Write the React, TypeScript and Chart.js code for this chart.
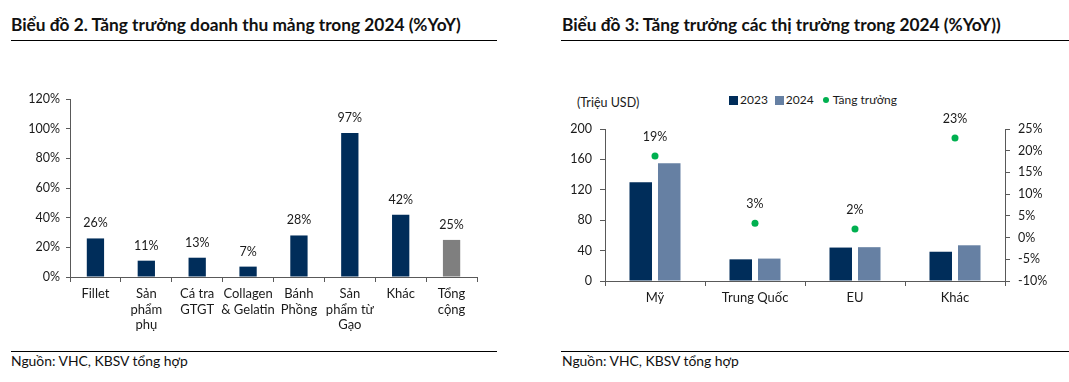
import React, { useEffect, useRef } from "react";
import { Chart, registerables } from "chart.js";

Chart.register(...registerables);

const FONT = "Lato, 'Noto Sans', sans-serif";
const NAVY = "#002d5a";
const LIGHT = "#6680a3";
const GREY = "#7f7f7f";
const GREEN = "#00b050";
const AXIS = "#595959";
const TEXT = "#1a1a1a";

// Chart 2 data
const segmentLabels: string[][] = [
  ["Fillet"],
  ["Sản", "phẩm", "phụ"],
  ["Cá tra", "GTGT"],
  ["Collagen", "& Gelatin"],
  ["Bánh", "Phồng"],
  ["Sản", "phẩm từ", "Gạo"],
  ["Khác"],
  ["Tổng", "cộng"],
];
const segmentGrowth = [26, 11, 13, 7, 28, 97, 42, 25];
const segmentIsTotal = [false, false, false, false, false, false, false, true];
const segmentAxisMax = 120;
const segmentAxisStep = 20;

// Chart 3 data
const marketLabels = ["Mỹ", "Trung Quốc", "EU", "Khác"];
const revenue2023 = [130, 28.5, 44, 38.5];
const revenue2024 = [155, 29.5, 44.5, 47];
const marketGrowth = [18.8, 3.3, 2.0, 22.9];
const revenueAxis = { min: 0, max: 200, step: 40 };
const growthAxis = { min: -10, max: 25, step: 5 };

const valueLabels = {
  id: "valueLabels",
  afterDatasetsDraw(chart: any, _args: any, opts: any) {
    const { ctx } = chart;
    const idx: number = opts.datasetIndex;
    const meta = chart.getDatasetMeta(idx);
    const ds = chart.data.datasets[idx];
    ctx.save();
    ctx.font = `${opts.size}px ${FONT}`;
    ctx.fillStyle = TEXT;
    ctx.textAlign = "center";
    ctx.textBaseline = "middle";
    meta.data.forEach((el: any, i: number) => {
      const v = ds.data[i] as number;
      ctx.fillText(`${Math.round(v)}%`, el.x, el.y - opts.offset);
    });
    ctx.restore();
  },
};

function SegmentChart() {
  const ref = useRef<HTMLCanvasElement>(null);
  useEffect(() => {
    const chart = new Chart(ref.current!, {
      type: "bar",
      data: {
        labels: segmentLabels,
        datasets: [
          {
            data: segmentGrowth,
            backgroundColor: segmentIsTotal.map((t) => (t ? GREY : NAVY)),
            categoryPercentage: 1,
            barPercentage: 0.34,
          },
        ],
      },
      options: {
        responsive: false,
        animation: false,
        layout: { padding: { top: 19, right: 23, left: 0, bottom: 0 } },
        plugins: {
          legend: { display: false },
          tooltip: { enabled: false },
          valueLabels: { datasetIndex: 0, offset: 15, size: 12.5 },
        } as any,
        scales: {
          x: {
            grid: { display: true, drawOnChartArea: false, tickLength: 5, color: AXIS },
            border: { color: AXIS, width: 1 },
            ticks: {
              font: { family: FONT, size: 13 },
              color: TEXT,
              padding: 4,
              maxRotation: 0,
              autoSkip: false,
            },
            afterFit: (s: any) => {
              s.height = 63;
            },
          },
          y: {
            min: 0,
            max: segmentAxisMax,
            ticks: {
              stepSize: segmentAxisStep,
              callback: (v: any) => `${v}%`,
              font: { family: FONT, size: 12.5 },
              color: TEXT,
              padding: 6,
            },
            grid: { drawOnChartArea: false, tickLength: 4, color: AXIS },
            border: { color: AXIS, width: 1 },
            afterFit: (s: any) => {
              s.width = 70;
            },
          },
        },
      },
      plugins: [valueLabels],
    });
    return () => chart.destroy();
  }, []);
  return (
    <canvas
      ref={ref}
      width={500}
      height={260}
      style={{ position: "absolute", left: 0, top: 80, width: 500, height: 260 }}
    />
  );
}

function MarketChart() {
  const ref = useRef<HTMLCanvasElement>(null);
  useEffect(() => {
    const chart = new Chart(ref.current!, {
      type: "bar",
      data: {
        labels: marketLabels,
        datasets: [
          {
            type: "line" as any,
            label: "Tăng trưởng",
            data: marketGrowth,
            yAxisID: "y1",
            showLine: false,
            pointRadius: 3.5,
            pointBackgroundColor: GREEN,
            pointBorderWidth: 0,
            borderColor: GREEN,
            backgroundColor: GREEN,
          },
          {
            label: "2023",
            data: revenue2023,
            backgroundColor: NAVY,
            yAxisID: "y",
            categoryPercentage: 0.57,
            barPercentage: 0.79,
          },
          {
            label: "2024",
            data: revenue2024,
            backgroundColor: LIGHT,
            yAxisID: "y",
            categoryPercentage: 0.57,
            barPercentage: 0.79,
          },
        ],
      },
      options: {
        responsive: false,
        animation: false,
        layout: { padding: { top: 49, right: 0, left: 0, bottom: 0 } },
        plugins: {
          legend: { display: false },
          tooltip: { enabled: false },
          valueLabels: { datasetIndex: 0, offset: 19, size: 12.5 },
        } as any,
        scales: {
          x: {
            grid: { display: true, drawOnChartArea: false, tickLength: 5, color: AXIS, offset: true },
            border: { color: AXIS, width: 1 },
            offset: true,
            ticks: {
              font: { family: FONT, size: 13 },
              color: TEXT,
              padding: 4,
              maxRotation: 0,
              autoSkip: false,
            },
            afterFit: (s: any) => {
              s.height = 39;
            },
          },
          y: {
            position: "left",
            min: revenueAxis.min,
            max: revenueAxis.max,
            ticks: {
              stepSize: revenueAxis.step,
              font: { family: FONT, size: 12.5 },
              color: TEXT,
              padding: 8,
            },
            grid: { drawOnChartArea: false, tickLength: 5, color: AXIS },
            border: { color: AXIS, width: 1 },
            afterFit: (s: any) => {
              s.width = 65;
            },
          },
          y1: {
            position: "right",
            min: growthAxis.min,
            max: growthAxis.max,
            ticks: {
              stepSize: growthAxis.step,
              callback: (v: any) => `${v}%`,
              font: { family: FONT, size: 12.5 },
              color: TEXT,
              padding: 8,
            },
            grid: { drawOnChartArea: false, tickLength: 5, color: AXIS },
            border: { color: AXIS, width: 1 },
            afterFit: (s: any) => {
              s.width = 64;
            },
          },
        },
      },
      plugins: [valueLabels],
    });
    return () => chart.destroy();
  }, []);
  return (
    <canvas
      ref={ref}
      width={529}
      height={240}
      style={{ position: "absolute", left: 540, top: 80, width: 529, height: 240 }}
    />
  );
}

const titleStyle: React.CSSProperties = {
  position: "absolute",
  top: 14,
  fontFamily: FONT,
  fontWeight: 700,
  fontSize: 17.3,
  color: "#111",
  whiteSpace: "nowrap",
  lineHeight: "22px",
};
const sourceStyle: React.CSSProperties = {
  position: "absolute",
  top: 352,
  fontFamily: FONT,
  fontSize: 13.9,
  color: "#111",
  whiteSpace: "nowrap",
  lineHeight: "18px",
};
const rule = (left: number, top: number, width: number): React.CSSProperties => ({
  position: "absolute",
  left,
  top,
  width,
  height: 1,
  background: "#000",
});

export default function App() {
  return (
    <div
      style={{
        position: "fixed",
        left: 0,
        top: 0,
        width: 1069,
        height: 382,
        background: "#fff",
        overflow: "hidden",
      }}
    >
      <div style={{ ...titleStyle, left: 11 }}>
        Biểu đồ 2. Tăng trưởng doanh thu mảng trong 2024 (%YoY)
      </div>
      <div style={rule(11, 40, 486)} />
      <SegmentChart />
      <div style={rule(11, 351, 486)} />
      <div style={{ ...sourceStyle, left: 11 }}>Nguồn: VHC, KBSV tổng hợp</div>

      <div style={{ ...titleStyle, left: 562 }}>
        Biểu đồ 3: Tăng trưởng các thị trường trong 2024 (%YoY))
      </div>
      <div style={rule(561, 40, 508)} />
      <div
        style={{
          position: "absolute",
          left: 577,
          top: 94,
          fontFamily: FONT,
          fontSize: 12.5,
          color: TEXT,
          lineHeight: "18px",
        }}
      >
        (Triệu USD)
      </div>
      <div
        style={{
          position: "absolute",
          left: 729,
          top: 91,
          fontFamily: FONT,
          fontSize: 12,
          color: TEXT,
          lineHeight: "18px",
          display: "flex",
          alignItems: "center",
          whiteSpace: "nowrap",
        }}
      >
        <span style={{ width: 9, height: 9, background: NAVY, display: "inline-block", marginRight: 2 }} />
        <span style={{ marginRight: 7 }}>2023</span>
        <span style={{ width: 9, height: 9, background: LIGHT, display: "inline-block", marginRight: 2 }} />
        <span style={{ marginRight: 9 }}>2024</span>
        <span
          style={{
            width: 6,
            height: 6,
            borderRadius: 3,
            background: GREEN,
            display: "inline-block",
            marginRight: 4,
          }}
        />
        <span>Tăng trưởng</span>
      </div>
      <MarketChart />
      <div style={rule(561, 351, 508)} />
      <div style={{ ...sourceStyle, left: 562 }}>Nguồn: VHC, KBSV tổng hợp</div>
    </div>
  );
}
